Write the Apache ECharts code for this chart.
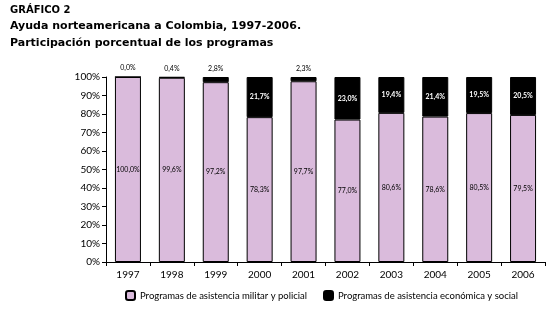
<!DOCTYPE html>
<html>
<head>
<meta charset="utf-8">
<script src="https://cdn.jsdelivr.net/npm/echarts@6/dist/echarts.min.js"></script>
<style>
html, body { margin: 0; padding: 0; background: #fff; }
#grafico { width: 551px; height: 313px; }
</style>
</head>
<body>
<div id="grafico"></div>
<script>
var years = ['1997', '1998', '1999', '2000', '2001', '2002', '2003', '2004', '2005', '2006'];
var militar = [100.0, 99.6, 97.2, 78.3, 97.7, 77.0, 80.6, 78.6, 80.5, 79.5];
var economica = [0.0, 0.4, 2.8, 21.7, 2.3, 23.0, 19.4, 21.4, 19.5, 20.5];
var y_ticks = [0, 10, 20, 30, 40, 50, 60, 70, 80, 90, 100];

var font = 'Lato, "Open Sans", sans-serif';
var title_font = '"DejaVu Sans", sans-serif';

function pct(v){
	return v.toFixed(1).replace('.', ',') + '%';
}

var economica_data = economica.map(function(v){
	if(v < 5){
		return {value: v, label: {position: 'top', color: '#000', fontWeight: 'normal'}};
	}
	return {value: v};
});

var chart = echarts.init(document.getElementById('grafico'));
var option = {
	backgroundColor: '#fff',
	animation: false,
	title: {
		left: 5,
		top: -2,
		text: '{a|GRÁFICO 2}\n{b|Ayuda norteamericana a Colombia, 1997-2006.}\n{b|Participación porcentual de los programas}',
		textStyle: {
			rich: {
				a: {fontFamily: title_font, fontSize: 10, fontWeight: 'bold', color: '#000', lineHeight: 15},
				b: {fontFamily: title_font, fontSize: 11, fontWeight: 'bold', color: '#000', lineHeight: 17}
			}
		}
	},
	grid: {left: 106, right: 6, top: 77, bottom: 51},
	legend: {
		bottom: 7,
		left: 120,
		itemGap: 16,
		itemWidth: 9,
		itemHeight: 9,
		textStyle: {fontFamily: font, fontSize: 9.5, color: '#000'},
		data: ['Programas de asistencia militar y policial', 'Programas de asistencia económica y social']
	},
	xAxis: {
		type: 'category',
		data: years,
		axisLine: {lineStyle: {color: '#000', width: 1}},
		axisTick: {show: true, length: 4, lineStyle: {color: '#000'}},
		axisLabel: {fontFamily: font, fontSize: 10, color: '#000', margin: 8}
	},
	yAxis: {
		type: 'value',
		min: 0,
		max: 100,
		interval: 10,
		splitLine: {show: false},
		axisLine: {show: true, lineStyle: {color: '#000'}},
		axisTick: {show: true, length: 4, lineStyle: {color: '#000'}},
		axisLabel: {
			fontFamily: font, fontSize: 10, color: '#000', margin: 6,
			formatter: function(v){ return y_ticks.indexOf(v) >= 0 ? v + '%' : ''; }
		}
	},
	series: [
		{
			name: 'Programas de asistencia militar y policial',
			type: 'bar',
			stack: 'total',
			barWidth: 26,
			data: militar,
			itemStyle: {color: '#dabbdc', borderColor: '#000', borderWidth: 1},
			label: {
				show: true,
				position: 'inside',
				fontFamily: font,
				fontSize: 7,
				color: '#000',
				formatter: function(p){ return pct(p.value); }
			}
		},
		{
			name: 'Programas de asistencia económica y social',
			type: 'bar',
			stack: 'total',
			barWidth: 26,
			data: economica_data,
			itemStyle: {color: '#000', borderColor: '#000', borderWidth: 1},
			label: {
				show: true,
				position: 'inside',
				fontFamily: font,
				fontSize: 7,
				fontWeight: 'bold',
				color: '#fff',
				formatter: function(p){ return pct(p.value); }
			}
		}
	]
};
chart.setOption(option);
</script>
</body>
</html>
